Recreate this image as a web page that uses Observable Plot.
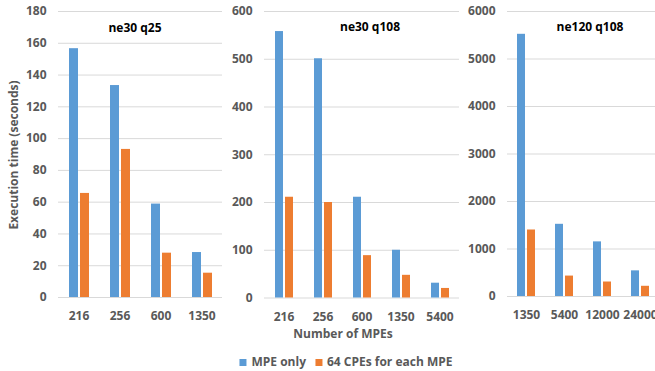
<!DOCTYPE html>
<html><head><meta charset="utf-8">
<script src="https://cdn.jsdelivr.net/npm/d3@7"></script>
<script src="https://cdn.jsdelivr.net/npm/@observablehq/plot@0.6"></script>
<style>
body{margin:0;background:#fff;}
#chart{position:relative;width:655px;height:371px;overflow:hidden;font-family:"Open Sans",sans-serif;}
.panel{position:absolute;top:0;}
.panel text{font-weight:bold;}
.lbl{position:absolute;white-space:nowrap;line-height:1;transform:translate(-50%,-50%);}
.title{font-weight:bold;font-size:12px;color:#000;}
.axt{font-weight:bold;font-size:12px;color:#595959;}
.legend{position:absolute;top:362px;left:346px;transform:translate(-50%,-50%);display:flex;align-items:center;font-size:12px;font-weight:bold;color:#595959;white-space:nowrap;line-height:1;}
.sw{display:inline-block;width:7px;height:7px;margin-right:5px;}
</style></head>
<body>
<div id="chart"></div>
<script>
const series = ["MPE only", "64 CPEs for each MPE"];
const colors = ["#5B9BD5", "#ED7D31"];

const p1Title = "ne30 q25";
const p1Cats = ["216", "256", "600", "1350"];
const p1Mpe = [156.6, 133.4, 58.8, 28.3];
const p1Cpe = [65.5, 93.2, 27.9, 15.3];
const p1Ticks = [0, 20, 40, 60, 80, 100, 120, 140, 160, 180];

const p2Title = "ne30 q108";
const p2Cats = ["216", "256", "600", "1350", "5400"];
const p2Mpe = [558, 501, 211, 100, 31];
const p2Cpe = [211, 200, 88.7, 47.5, 20];
const p2Ticks = [0, 100, 200, 300, 400, 500, 600];

const p3Title = "ne120 q108";
const p3Cats = ["1350", "5400", "12000", "24000"];
const p3Mpe = [5520, 1520, 1150, 540];
const p3Cpe = [1400, 430, 305, 215];
const p3Ticks = [0, 1000, 2000, 3000, 4000, 5000, 6000];

const yTitle = "Execution time (seconds)";
const xTitle = "Number of MPEs";

const chart = document.getElementById("chart");

function makePanel(cats, mpe, cpe, ticks, left, width, marginLeft, marginBottom) {
  const data = cats.flatMap((c, i) => [
    {cat: c, series: series[0], value: mpe[i]},
    {cat: c, series: series[1], value: cpe[i]}
  ]);
  const p = Plot.plot({
    width, height: 330,
    marginTop: 11, marginBottom, marginLeft, marginRight: 0,
    style: {fontFamily: "Open Sans, sans-serif", fontSize: "12px", color: "#595959", background: "transparent", overflow: "visible"},
    fx: {domain: cats, padding: 0, tickSize: 0, tickPadding: 14, label: null},
    x: {domain: series, axis: null, paddingInner: 0.22, paddingOuter: 0.9},
    y: {domain: [0, ticks[ticks.length - 1]], ticks, tickFormat: d => String(d), tickSize: 0, tickPadding: 12, label: null},
    color: {domain: series, range: colors},
    marks: [
      Plot.gridY(ticks, {stroke: "#d9d9d9", strokeOpacity: 1}),
      Plot.barY(data, {fx: "cat", x: "series", y: "value", fill: "series"})
    ]
  });
  p.classList.add("panel");
  p.style.left = left + "px";
  chart.appendChild(p);
}

makePanel(p1Cats, p1Mpe, p1Cpe, p1Ticks, 0, 222, 57, 33);
makePanel(p2Cats, p2Mpe, p2Cpe, p2Ticks, 222, 238, 41, 32.5);
makePanel(p3Cats, p3Mpe, p3Cpe, p3Ticks, 460, 200, 46, 34);

function addLabel(text, cls, x, y, rot) {
  const d = document.createElement("div");
  d.className = "lbl " + cls;
  d.textContent = text;
  d.style.left = x + "px";
  d.style.top = y + "px";
  if (rot) d.style.transform = "translate(-50%,-50%) rotate(" + rot + "deg)";
  chart.appendChild(d);
}
addLabel(p1Title, "title", 135, 28);
addLabel(p2Title, "title", 370, 27);
addLabel(p3Title, "title", 590, 27);
addLabel(yTitle, "axt", 14, 155, -90);
addLabel(xTitle, "axt", 343, 334);

const lg = document.createElement("div");
lg.className = "legend";
series.forEach((s, i) => {
  const item = document.createElement("span");
  item.style.display = "inline-flex";
  item.style.alignItems = "center";
  item.style.marginRight = i === 0 ? "9px" : "0";
  const sw = document.createElement("span");
  sw.className = "sw";
  sw.style.background = colors[i];
  item.appendChild(sw);
  item.appendChild(document.createTextNode(s));
  lg.appendChild(item);
});
chart.appendChild(lg);
</script>
</body></html>
